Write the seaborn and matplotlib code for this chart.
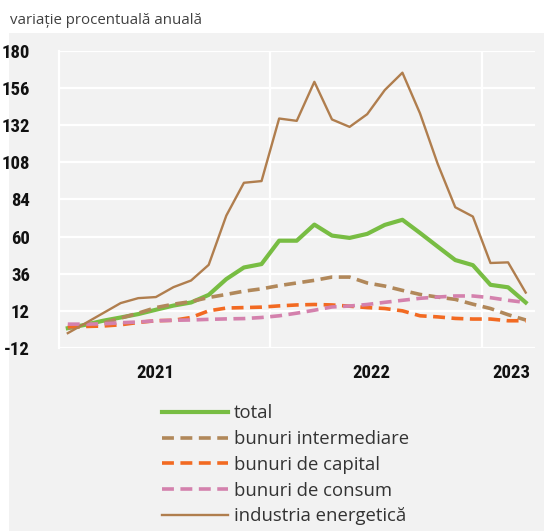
import pandas as pd
import numpy as np
import seaborn as sns
import matplotlib.pyplot as plt
from matplotlib.patches import Rectangle
from matplotlib import font_manager

# monthly data, Jan 2021 - Mar 2023 (annual % change)
months = pd.date_range("2021-01-01", "2023-03-01", freq="MS")
total = [0.8, 3.0, 5.6, 7.7, 9.9, 12.7, 15.4, 17.4, 22.3, 32.5, 40.0, 42.2, 57.3, 57.3,
         67.7, 60.6, 59.1, 61.7, 67.5, 70.8, 62.3, 53.5, 44.8, 41.5, 28.8, 27.2, 17.4]
intermediare = [1.0, 2.0, 4.0, 7.3, 10.5, 14.1, 16.3, 18.0, 20.6, 22.6, 24.7, 26.2, 28.3, 30.0,
                31.7, 33.8, 33.8, 30.0, 28.0, 25.2, 22.6, 20.9, 19.4, 16.3, 13.5, 9.5, 6.1]
capital = [1.9, 1.9, 2.2, 3.0, 4.5, 5.6, 5.9, 7.7, 12.0, 13.8, 14.1, 14.4, 15.2, 15.8,
           16.1, 15.8, 15.0, 14.1, 13.5, 12.0, 8.8, 8.1, 7.1, 6.7, 6.7, 5.6, 5.6]
consum = [3.4, 3.4, 3.6, 4.3, 4.8, 5.6, 5.9, 6.1, 6.5, 6.8, 7.0, 7.7, 8.8, 10.5,
          12.4, 14.5, 15.1, 16.1, 17.5, 18.8, 20.1, 20.9, 21.6, 21.6, 20.5, 18.8, 17.4]
energie = [-2.4, 4.0, 10.5, 17.0, 20.2, 20.9, 27.3, 31.6, 41.7, 73.5, 94.7, 95.8, 136.2, 134.7,
           159.9, 135.6, 130.8, 139.0, 154.6, 165.8, 139.5, 107.0, 78.9, 72.9, 42.9, 43.3, 23.8]

labels = ["total", "bunuri intermediare", "bunuri de capital", "bunuri de consum", "industria energetică"]
years = ["2021", "2022", "2023"]
yticks = np.arange(-12, 181, 24)

df = pd.DataFrame({"luna": months, labels[0]: total, labels[1]: intermediare,
                   labels[2]: capital, labels[3]: consum, labels[4]: energie})
df["idx"] = np.arange(len(df))

colors = ["#78bd43", "#b1885a", "#f26a22", "#d481ad", "#b07e4e"]
widths = [3.0, 2.6, 2.6, 2.6, 1.7]
dashes = [None, (3.3, 1.8), (3.3, 1.8), (3.3, 1.8), None]

# pick a condensed font for the axis numbers if one is installed
installed = {f.name for f in font_manager.fontManager.ttflist}
narrow = "DejaVu Sans"
num_kw = {"fontweight": "bold", "fontsize": 12}
for cand in ["Liberation Sans Narrow", "DejaVu Sans Condensed", "Roboto Condensed", "Open Sans Condensed"]:
    if cand in installed:
        narrow = cand
        num_kw = {"fontweight": "bold", "fontsize": 13.5}
        break
if narrow == "DejaVu Sans":
    num_kw = {"fontweight": "semibold", "fontsize": 12.5, "fontstretch": "condensed"}
    narrow = "Roboto" if "Roboto" in installed else "DejaVu Sans"

bg = "#f2f2f2"
fig = plt.figure(figsize=(5.44, 5.31), dpi=100)
fig.patch.set_facecolor("white")
fig.patches.append(Rectangle((9 / 544, 0), 1, 1 - 33 / 531, transform=fig.transFigure,
                             facecolor=bg, edgecolor="none", zorder=-5))
fig.text(10 / 544, 1 - 20 / 531, "variație procentuală anuală", fontsize=10.8,
         color="#404040", family="Open Sans", va="center", ha="left")

ax = fig.add_axes([59 / 544, 1 - 348 / 531, (534.5 - 59) / 544, (348 - 50.7) / 531])
ax.set_facecolor(bg)

for i, lab in enumerate(labels):
    sns.lineplot(data=df, x="idx", y=lab, ax=ax, color=colors[i], linewidth=widths[i],
                 label=lab, zorder=3 + i, legend=False)
    l = ax.lines[-1]
    if dashes[i]:
        l.set_dashes(dashes[i])
        l.set_dash_capstyle("butt")

ax.set_xlim(-0.5, 26.5)
ax.set_ylim(-12, 180)
ax.set_yticks(yticks)
ax.set_yticklabels([str(v) for v in yticks], family=narrow, color="#111111", **num_kw)
ax.set_xticks([11.5, 23.5])
ax.set_xticklabels([])
ax.grid(True, color="white", linewidth=1.6, zorder=1)
ax.set_axisbelow(True)
for s in ["top", "right", "bottom"]:
    ax.spines[s].set_visible(False)
ax.spines["left"].set_color("white")
ax.spines["left"].set_linewidth(1.6)
ax.tick_params(length=0, axis="y", pad=21)
ax.tick_params(length=0, axis="x")
ax.set_xlabel("")
ax.set_ylabel("")

for yr, pos in zip(years, [5.0, 17.25, 25.2]):
    ax.text(pos, -0.085, yr, transform=ax.get_xaxis_transform(), ha="center", va="center",
            family=narrow, color="#111111", **num_kw)

handles = ax.lines[:5]
leg = fig.legend(handles, labels, loc="upper left", bbox_to_anchor=(153 / 544, 1 - 395 / 531),
                 frameon=False, handlelength=3.55, handletextpad=0.33,
                 labelspacing=0.42, borderpad=0, prop={"family": "Open Sans", "size": 13.3})
for t in leg.get_texts():
    t.set_color("#333333")

plt.savefig("out.png", dpi=100, facecolor=fig.get_facecolor())
